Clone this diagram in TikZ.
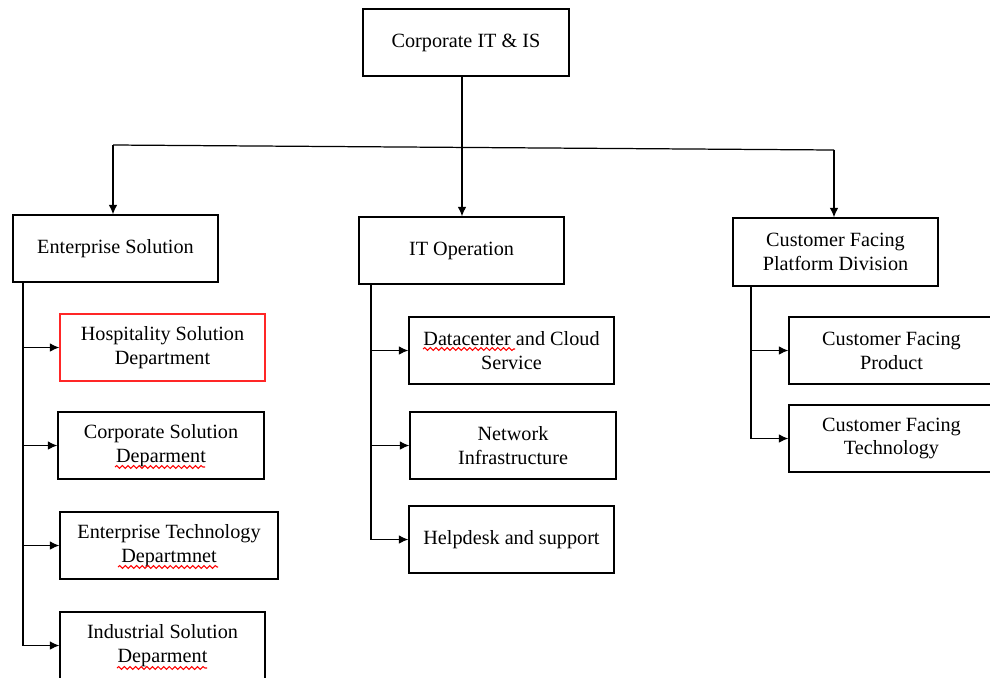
\documentclass[tikz,border=0pt]{standalone}
\usepackage{fontspec}
\setmainfont{Liberation Serif}
\usepackage{tikz}
\usetikzlibrary{arrows, arrows.meta, positioning, decorations.pathmorphing}

\tikzset{
  unit/.style={draw, line width=0.7pt, rectangle, align=center, inner sep=0pt,
    minimum width=4.1cm, minimum height=1.34cm,
    font=\fontsize{11.5}{13.6}\selectfont},
  link/.style={line width=0.7pt, -{Latex[length=1.9mm, width=1.7mm]}},
  spell/.style={draw=red, line width=0.6pt, decorate,
    decoration={snake, amplitude=0.8pt, segment length=3.2pt}}
}

\begin{document}
\begin{tikzpicture}[x=0.02cm, y=-0.02cm]
\useasboundingbox (0,0) rectangle (990,677);

% Head office
\node[unit, minimum width=4.12cm] (top) at (466,42.5) {Corporate IT \& IS};

% Divisions
\node[unit] (ent) at (115.5,248.5) {Enterprise Solution};
\node[unit] (itop) at (461.5,250.5) {IT Operation};
\node[unit, minimum height=1.36cm] (cfpd) at (835.5,252) {Customer Facing\\Platform Division};

% Enterprise Solution departments
\node[unit, draw=red!85] (hosp) at (162.5,347.5) {Hospitality Solution\\Department};
\node[unit, minimum width=4.12cm] (corp) at (161,445.5) {Corporate Solution\\Deparment};
\node[unit, minimum width=4.36cm] (etech) at (169,545.5) {Enterprise Technology\\Departmnet};
\node[unit] (ind) at (162.5,645.5) {Industrial Solution\\Deparment};

% IT Operation departments
\node[unit] (dc) at (511.5,350.5) {Datacenter and Cloud\\Service};
\node[unit, minimum width=4.12cm] (net) at (513,445.5) {Network\\Infrastructure};
\node[unit] (help) at (511.5,539.5) {Helpdesk and support};

% Customer Facing departments
\node[unit] (cfprod) at (891.5,350.5) {Customer Facing\\Product};
\node[unit] (cftech) at (891.5,438.5) {Customer Facing\\Technology};

% spell-check squiggles under misspelt words
\draw[spell] (115,467) -- (205,467);
\draw[spell] (118,567) -- (218,567);
\draw[spell] (117,668) -- (207,668);
\draw[spell] (423,349) -- (515,349);

% Top level connectors
\coordinate (hl) at (113,145);
\coordinate (hr) at (834,150);
\draw[link] (top.south -| 462,0) -- (462,0 |- itop.north);
\draw[line width=0.7pt] (hl) -- (hr);
\draw[link] (hl) -- (hl |- ent.north);
\draw[link] (hr) -- (hr |- cfpd.north);

% Trunks down to the departments
\coordinate (lt) at (23,0);
\coordinate (mt) at (371,0);
\coordinate (rt) at (751,0);
\foreach \c in {hosp,corp,etech,ind}
  \draw[link] (ent.south -| lt) |- (\c.west);
\foreach \c in {dc,net,help}
  \draw[link] (itop.south -| mt) |- (\c.west);
\foreach \c in {cfprod,cftech}
  \draw[link] (cfpd.south -| rt) |- (\c.west);
\end{tikzpicture}
\end{document}
